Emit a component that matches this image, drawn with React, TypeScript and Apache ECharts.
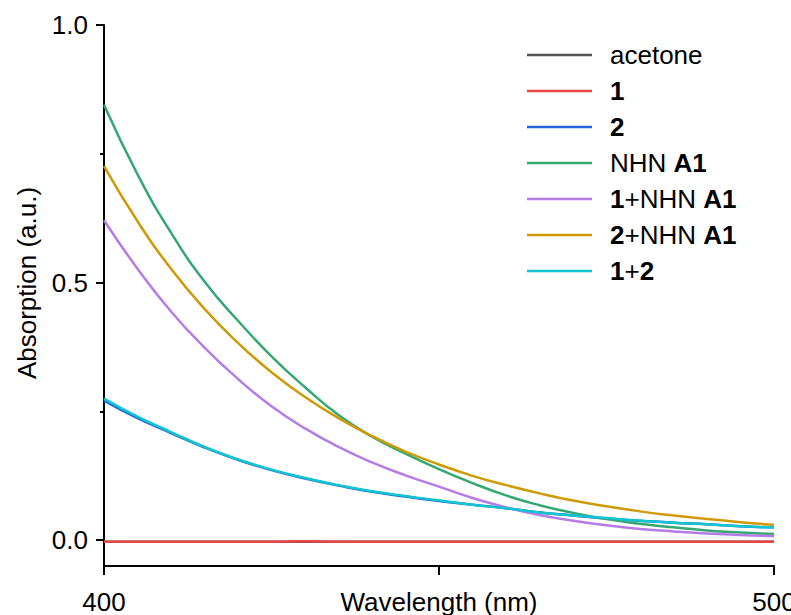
import React, { useEffect, useRef } from "react";
import * as echarts from "echarts";

const wavelengths = [400, 405, 410, 415, 420, 425, 430, 435, 440, 445, 450, 455, 460, 465, 470, 475, 480, 485, 490, 495, 500];

const seriesNames = ["acetone", "1", "2", "NHN A1", "1+NHN A1", "2+NHN A1", "1+2"];
const legendLabels = ["acetone", "{b|1}", "{b|2}", "NHN {b|A1}", "{b|1}+NHN {b|A1}", "{b|2}+NHN {b|A1}", "{b|1}+{b|2}"];
const seriesColors = ["#555555", "#e84545", "#2468d8", "#35a872", "#b57ce6", "#cf9a06", "#12c4d0"];

const acetone = [-0.003, -0.003, -0.003, -0.003, -0.003, -0.003, -0.003, -0.003, -0.003, -0.003, -0.003, -0.003, -0.003, -0.003, -0.003, -0.003, -0.003, -0.003, -0.003, -0.003, -0.003];
const s1 = [-0.003, -0.003, -0.003, -0.003, -0.003, -0.003, -0.002, -0.003, -0.003, -0.003, -0.003, -0.003, -0.003, -0.003, -0.003, -0.003, -0.003, -0.003, -0.003, -0.003, -0.003];
const s2 = [0.271, 0.237, 0.208, 0.18, 0.156, 0.136, 0.12, 0.106, 0.094, 0.085, 0.076, 0.069, 0.062, 0.054, 0.048, 0.042, 0.038, 0.034, 0.031, 0.027, 0.025];
const nhnA1 = [0.845, 0.71, 0.597, 0.502, 0.426, 0.357, 0.297, 0.243, 0.201, 0.168, 0.138, 0.111, 0.087, 0.068, 0.053, 0.041, 0.032, 0.025, 0.019, 0.015, 0.012];
const s1NhnA1 = [0.621, 0.527, 0.444, 0.374, 0.313, 0.26, 0.217, 0.181, 0.151, 0.126, 0.104, 0.082, 0.064, 0.049, 0.038, 0.029, 0.022, 0.017, 0.013, 0.01, 0.008];
const s2NhnA1 = [0.726, 0.619, 0.527, 0.449, 0.383, 0.326, 0.278, 0.237, 0.202, 0.172, 0.147, 0.125, 0.107, 0.091, 0.077, 0.066, 0.056, 0.048, 0.041, 0.035, 0.03];
const s1s2 = [0.275, 0.24, 0.21, 0.181, 0.157, 0.137, 0.121, 0.107, 0.095, 0.086, 0.077, 0.069, 0.062, 0.054, 0.048, 0.043, 0.038, 0.034, 0.031, 0.027, 0.025];

const allSeries = [acetone, s1, s2, nhnA1, s1NhnA1, s2NhnA1, s1s2];

const xTickValues = [400, 450, 500];
const xLabelValues = [400, 500];
const yTickValues = [0, 0.5, 1];
const yMinorTickValues = [0.25, 0.75];

const FONT = "'Liberation Sans', Arial, sans-serif";
const FS = 26;

export default function App() {
  const ref = useRef<HTMLDivElement>(null);
  useEffect(() => {
    if (!ref.current) return;
    const chart = echarts.init(ref.current, null, { renderer: "svg" });
    const option: any = {
      animation: false,
      backgroundColor: "#ffffff",
      textStyle: { fontFamily: FONT },
      grid: { left: 104, right: 17, top: 25, bottom: 49, containLabel: false, outerBoundsMode: "none" },
      legend: {
        orient: "vertical",
        left: 527,
        top: 42,
        padding: 0,
        itemWidth: 65,
        itemHeight: 14,
        itemGap: 10,
        icon: "path://M0,0 L65,0 L65,2.5 L0,2.5 Z",
        data: seriesNames,
        formatter: (name: string) => legendLabels[seriesNames.indexOf(name)],
        textStyle: {
          fontSize: FS,
          fontFamily: FONT,
          color: "#000",
          lineHeight: 26,
          padding: [0, 0, 0, 13],
          rich: {
            b: { fontWeight: "bold", fontSize: FS, fontFamily: FONT, color: "#000", lineHeight: 26 },
          },
        },
      },
      xAxis: {
        type: "value",
        min: 400,
        max: 500,
        name: "Wavelength (nm)",
        nameLocation: "middle",
        nameGap: 23,
        nameMoveOverlap: false,
        nameTextStyle: { fontSize: FS, fontFamily: FONT, color: "#000", verticalAlign: "top" },
        axisLine: { show: true, onZero: false, lineStyle: { color: "#000", width: 2 } },
        axisTick: { show: true, length: 9, lineStyle: { color: "#000", width: 2 }, customValues: xTickValues },
        axisLabel: {
          show: true,
          margin: 23,
          fontSize: FS,
          fontFamily: FONT,
          color: "#000",
          customValues: xLabelValues,
          formatter: (v: number) => String(v),
        },
        splitLine: { show: false },
      },
      yAxis: [
        {
          type: "value",
          min: -0.05,
          max: 1,
          position: "left",
          axisLine: { show: true, onZero: false, lineStyle: { color: "#000", width: 2 } },
          axisTick: { show: true, length: 8, lineStyle: { color: "#000", width: 2 }, customValues: yTickValues },
          axisLabel: {
            show: true,
            margin: 16,
            fontSize: FS,
            fontFamily: FONT,
            color: "#000",
            customValues: yTickValues,
            formatter: (v: number) => v.toFixed(1),
          },
          splitLine: { show: false },
        },
        {
          type: "value",
          min: -0.05,
          max: 1,
          position: "left",
          axisLine: { show: false, onZero: false },
          axisTick: { show: true, length: 4, lineStyle: { color: "#000", width: 2 }, customValues: yMinorTickValues },
          axisLabel: { show: false },
          splitLine: { show: false },
        },
      ],
      graphic: [
        {
          type: "text",
          x: 27,
          y: 283,
          rotation: Math.PI / 2,
          style: {
            text: "Absorption (a.u.)",
            fontSize: FS,
            fontFamily: FONT,
            fill: "#000",
            align: "center",
            verticalAlign: "middle",
          },
        },
      ],
      series: seriesNames.map((name, i) => ({
        name,
        type: "line",
        yAxisIndex: 0,
        data: wavelengths.map((w, j) => [w, allSeries[i][j]]),
        smooth: true,
        symbol: "none",
        showSymbol: false,
        clip: false,
        color: seriesColors[i],
        lineStyle: { width: 2.5, color: seriesColors[i] },
        itemStyle: { color: seriesColors[i] },
        z: 2 + i,
      })),
    };
    chart.setOption(option);
    return () => chart.dispose();
  }, []);
  return (
    <div
      ref={ref}
      style={{ position: "fixed", left: 0, top: 0, width: 791, height: 615, background: "#fff" }}
    />
  );
}
